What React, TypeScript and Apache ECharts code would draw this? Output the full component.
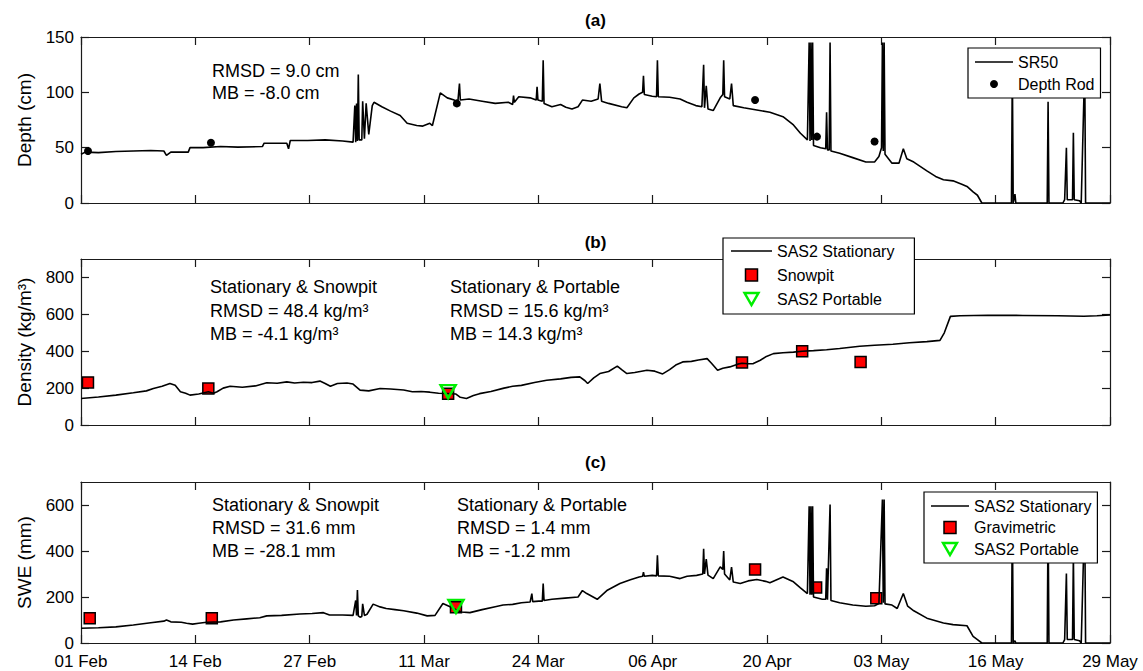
import React, { useEffect, useRef } from "react";
import * as echarts from "echarts";

// ---------- axis ticks ----------
const tickLabels = ["01 Feb", "14 Feb", "27 Feb", "11 Mar", "24 Mar", "06 Apr", "20 Apr", "03 May", "16 May", "29 May"];
const tickDays = [0, 13.11, 26.22, 39.33, 52.44, 65.56, 78.67, 91.78, 104.89, 118];
const depthTicks = [0, 50, 100, 150];
const densityTicks = [0, 200, 400, 600, 800];
const sweTicks = [0, 200, 400, 600];

// ---------- (a) snow depth, [day since 01 Feb, cm] ----------
const sr50Depth: [number, number][] = [
  [0, 44], [0.5, 46], [2, 45.5], [4, 46.5], [6, 47], [8, 47.5], [9.5, 47], [9.8, 43], [10.3, 46], [12.3, 46], [12.5, 50],
  [14, 50], [16, 51], [18, 50.5], [20.8, 51], [21, 54], [23.6, 54], [23.8, 49], [24, 56.5], [26, 56.5], [28, 57], [30, 56],
  [31.2, 55], [31.4, 88], [31.5, 55], [31.6, 90], [31.7, 56], [31.8, 116], [31.9, 57], [32.2, 57], [32.3, 92], [32.5, 58],
  [32.7, 90], [33.0, 62], [33.4, 88], [33.6, 91], [34.5, 87], [35.5, 83], [36.6, 79], [37.4, 72], [38.5, 70], [39.2, 69.5],
  [40, 72], [40.3, 70], [41.2, 99.5], [42, 95], [42.8, 93], [43.2, 90], [43.4, 108], [43.5, 93], [44.5, 94], [46, 92],
  [47.5, 90], [49, 91], [49.5, 89], [49.6, 97], [49.7, 91], [50.2, 96], [51.5, 95], [52.2, 93], [52.3, 105], [52.4, 93],
  [52.9, 92], [53, 129], [53.1, 90], [54, 87], [55, 89], [55.6, 86.5], [56.3, 85], [57, 87], [57.5, 93], [58.5, 92],
  [59.3, 94], [59.5, 108], [59.7, 92], [60.5, 90], [62, 87], [62.6, 86], [63.4, 95], [64, 98.5], [64.4, 100], [64.5, 115],
  [64.6, 98], [65.5, 96.5], [66, 96], [66.1, 129], [66.2, 96], [67.5, 95.5], [68.7, 94], [69.5, 91], [70.5, 88], [71.2, 87],
  [71.4, 125], [71.5, 86], [71.7, 106], [71.9, 85], [72.5, 83.5], [73.3, 95], [73.6, 98], [73.7, 129], [73.8, 96], [74.4, 94],
  [74.6, 108], [74.8, 88], [76, 86], [77.5, 84], [79, 82], [80.5, 78], [81.7, 70.5], [82.5, 63], [83.3, 57], [83.5, 145],
  [83.6, 56], [83.7, 145], [83.8, 57], [83.9, 145], [84.0, 52], [84.8, 50], [85.4, 49], [85.5, 82], [85.6, 48], [85.8, 48],
  [85.9, 145], [86.0, 47], [87, 45], [88.5, 41], [90, 37], [91, 37], [91.5, 42], [91.8, 50], [91.9, 145], [92.0, 47],
  [92.1, 145], [92.2, 44], [93, 36], [93.8, 36], [94.3, 49], [94.7, 40], [95.5, 37], [97, 29], [98, 24], [98.9, 21],
  [100, 20], [101, 17], [101.6, 15], [102.3, 10], [102.8, 7], [103.3, 0], [106.7, 0], [106.8, 125], [106.9, 0], [107.1, 8],
  [107.2, 0], [110.8, 0], [110.9, 91.5], [111.0, 0], [112.6, 0], [112.8, 3], [113.0, 50], [113.1, 3], [113.7, 3],
  [113.8, 63.5], [113.9, 3], [114.5, 2], [114.7, 0], [115.1, 125], [115.2, 0], [118, 0],
];
const depthRod: [number, number][] = [[0.8, 47], [14.9, 54.5], [43.1, 90], [77.3, 93], [84.4, 60], [91, 55.5]];

// ---------- (b) density, kg/m3 ----------
const stationaryDensity: [number, number][] = [
  [0, 144], [2, 152], [4, 162], [6, 175], [7.5, 185], [8.3, 198], [9.3, 210], [10.2, 225], [10.8, 215], [11.4, 180],
  [12, 172], [12.5, 162], [13.5, 168], [14.6, 180], [15.2, 172], [15.6, 180], [16.3, 200], [17.1, 210], [18.5, 205],
  [20, 212], [21.3, 229], [22.5, 226], [23.6, 234], [24.5, 228], [25.5, 232], [26.5, 230], [27.4, 238], [28, 225],
  [28.6, 210], [29.4, 225], [30.5, 228], [31.2, 222], [32, 189], [33, 185], [34.3, 198], [35.5, 195], [37, 190], [38, 180],
  [39, 182], [40, 178], [41, 172], [42, 171], [43, 168], [43.5, 150], [44.2, 144], [45, 160], [45.7, 170], [47, 182],
  [48.5, 200], [49.5, 210], [50.5, 215], [52, 230], [53.4, 243], [55, 250], [56.2, 258], [57.2, 261], [57.8, 240],
  [58.1, 225], [58.8, 255], [59.5, 279], [60.5, 290], [61.5, 319], [62, 300], [62.6, 279], [63.5, 285], [64.9, 297],
  [65.8, 292], [66.7, 277], [67.5, 300], [68.2, 325], [69, 342], [70, 345], [70.8, 352], [71.8, 360], [72.3, 335],
  [73, 297], [73.6, 308], [74.4, 315], [75.3, 330], [75.8, 335], [76.5, 332], [77.1, 333], [77.9, 351], [78.6, 372],
  [79.4, 387], [80.5, 392], [81.7, 395], [82.7, 400], [84, 403], [85.5, 408], [87, 415], [89.3, 427], [91, 432],
  [93.1, 438], [95, 446], [97, 452], [98.5, 459], [99.0, 500], [99.7, 589], [100.8, 592], [104, 595], [108, 594],
  [112, 592], [115, 590], [116.5, 592], [118, 596],
];
const snowpitDensity: [number, number][] = [[0.8, 231], [14.6, 198], [42.1, 170], [75.8, 339], [82.7, 400], [89.4, 342]];
const portableDensity: [number, number][] = [[42.1, 181]];

// ---------- (c) SWE, mm ----------
const stationarySwe: [number, number][] = [
  [0, 64], [2, 66], [4, 70], [6, 78], [8, 88], [9.5, 95], [9.8, 100], [10.3, 92], [11.5, 90], [12.1, 86], [12.8, 82],
  [13.5, 86], [14.4, 90], [16, 92], [17.5, 100], [19, 105], [20.5, 110], [21.3, 118], [23, 120], [25.1, 126], [26.5, 128],
  [27.8, 132], [28.5, 122], [30, 122], [31.2, 120], [31.5, 185], [31.6, 120], [31.7, 230], [31.8, 118], [32.0, 112],
  [32.2, 115], [32.3, 170], [32.5, 120], [32.8, 125], [33.5, 169], [34.3, 157], [35, 150], [36, 145], [37, 140],
  [38.5, 130], [39.7, 118], [40.6, 120], [41.5, 172], [42.2, 160], [43, 145], [43.6, 135], [44.6, 132], [46, 145],
  [47.5, 158], [48.4, 165], [49.5, 168], [50.5, 175], [51.5, 178], [51.7, 215], [51.8, 180], [52.5, 182], [52.9, 182],
  [53.0, 259], [53.1, 185], [54, 190], [55.5, 195], [57, 200], [57.5, 228], [58, 215], [59.2, 190], [60.3, 228],
  [61.8, 259], [63, 275], [64, 287], [64.4, 290], [64.5, 308], [64.6, 290], [65.5, 294], [66, 292], [66.1, 381],
  [66.2, 292], [67.5, 290], [68.7, 280], [69.5, 290], [70.6, 294], [71.3, 300], [71.4, 410], [71.5, 300], [71.7, 365],
  [71.9, 295], [72.5, 280], [73.3, 331], [73.6, 320], [73.7, 400], [73.8, 300], [74.4, 274], [74.6, 330], [74.8, 265],
  [75.6, 259], [76.5, 270], [77.5, 276], [78.5, 268], [79, 262], [80.5, 287], [81.7, 266], [82.5, 240], [83.3, 215],
  [83.5, 594], [83.6, 210], [83.7, 594], [83.8, 210], [83.9, 594], [84.0, 200], [85, 190], [85.4, 190], [85.5, 325],
  [85.6, 188], [85.9, 602], [86.0, 185], [87, 175], [88.5, 165], [90, 160], [91, 162], [91.5, 172], [91.9, 624],
  [92.0, 175], [92.1, 624], [92.2, 170], [93, 165], [93.6, 150], [94.3, 215], [94.8, 160], [95.5, 140], [97, 108],
  [98.9, 87], [100, 80], [101.6, 75], [102.3, 29], [102.8, 15], [103.3, 0], [106.7, 0], [106.8, 570], [106.9, 0],
  [107.1, 10], [107.2, 0], [110.8, 0], [110.9, 549], [111.0, 0], [112.6, 0], [112.8, 15], [113.0, 302], [113.1, 15],
  [113.7, 15], [113.8, 381], [113.9, 15], [114.5, 10], [114.7, 0], [115.1, 570], [115.2, 0], [118, 0],
];
const gravimetricSwe: [number, number][] = [[1, 108], [15, 108], [43, 155], [77.3, 320], [84.3, 241], [91.2, 195]];
const portableSwe: [number, number][] = [[43, 159]];

const FONT = '"Liberation Sans", Arial, Helvetica, sans-serif';
const AX = "#1a1a1a";

const LINE_ICON = "path://M0,0 L40,0 L40,1.6 L0,1.6 Z";
const SQUARE_ICON = "path://M0,0 L10,0 L10,10 L0,10 Z";
const TRIANGLE_ICON = "path://M0,0 L12,0 L6,10.4 Z";

function xAxes(gridIndex: number, showLabels: boolean) {
  const base = {
    type: "value",
    gridIndex,
    min: 0,
    max: 118,
    splitLine: { show: false },
    axisLine: { show: true, onZero: false, lineStyle: { color: AX, width: 1.2 } },
    axisTick: { show: true, inside: true, length: 8, customValues: tickDays, lineStyle: { color: AX, width: 1.2 } },
  };
  return [
    {
      ...base,
      position: "bottom",
      axisLabel: {
        show: showLabels,
        customValues: tickDays,
        margin: 10,
        fontSize: 17,
        fontFamily: FONT,
        color: "#000",
        formatter: (v: number) => {
          const i = tickDays.findIndex((t) => Math.abs(t - v) < 0.5);
          return i >= 0 ? tickLabels[i] : "";
        },
      },
    },
    { ...base, position: "top", axisLabel: { show: false } },
  ];
}

function yAxes(gridIndex: number, max: number, ticks: number[], name: string) {
  const base = {
    type: "value",
    gridIndex,
    min: 0,
    max,
    splitLine: { show: false },
    axisLine: { show: true, onZero: false, lineStyle: { color: AX, width: 1.2 } },
    axisTick: { show: true, inside: true, length: 8, customValues: ticks, lineStyle: { color: AX, width: 1.2 } },
  };
  return [
    {
      ...base,
      position: "left",
      name,
      nameLocation: "middle",
      nameGap: 47,
      nameTextStyle: { fontSize: 19, fontFamily: FONT, color: "#000" },
      axisLabel: { show: true, customValues: ticks, margin: 7, fontSize: 17, fontFamily: FONT, color: "#000" },
    },
    { ...base, position: "right", axisLabel: { show: false } },
  ];
}

const lineStyleBlack = { color: "#000", width: 1.6 };
const squareStyle = { color: "#ff0000", borderColor: "#000", borderWidth: 1.5, opacity: 1 };
const triangleStyle = { color: "rgba(0,0,0,0)", borderColor: "#00ee00", borderWidth: 2.5, opacity: 1 };

function txt(x: number, y: number, text: string, size = 18, bold = false, align = "left") {
  return {
    type: "text",
    x,
    y,
    z: 10,
    style: {
      text,
      fill: "#000",
      font: `${bold ? "bold " : ""}${size}px ${FONT}`,
      align,
      verticalAlign: "middle",
    },
  };
}

function legendBox(left: number, top: number, data: any[], padding: number[], itemWidth: number, itemHeight: number, itemGap: number) {
  return {
    orient: "vertical",
    left,
    top,
    data,
    padding,
    itemWidth,
    itemHeight,
    itemGap,
    symbolRotate: 0,
    selectedMode: false,
    backgroundColor: "#fff",
    borderColor: "#000",
    borderWidth: 1.2,
    borderRadius: 0,
    textStyle: { fontSize: 16, fontFamily: FONT, color: "#000", lineHeight: 18 },
  };
}

export default function App() {
  const ref = useRef<HTMLDivElement>(null);
  useEffect(() => {
    if (!ref.current) return;
    const chart = echarts.init(ref.current, undefined, { renderer: "svg" });
    const lineItem = (name: string) => ({ name, icon: LINE_ICON, itemStyle: { color: "#000", borderWidth: 0 } });
    const squareItem = (name: string) => ({ name, icon: SQUARE_ICON, itemStyle: { color: "#ff0000", borderColor: "#000", borderWidth: 1.5 } });
    const triItem = (name: string) => ({ name, icon: TRIANGLE_ICON, itemStyle: { color: "rgba(0,0,0,0)", borderColor: "#00ee00", borderWidth: 2.5 } });
    const option: any = {
      animation: false,
      backgroundColor: "#fff",
      textStyle: { fontFamily: FONT },
      grid: [
        { left: 81, right: 33, top: 37, height: 166 },
        { left: 81, right: 33, top: 259, height: 166 },
        { left: 81, right: 33, top: 482, height: 161 },
      ],
      xAxis: [...xAxes(0, false), ...xAxes(1, false), ...xAxes(2, true)],
      yAxis: [
        ...yAxes(0, 150, depthTicks, "Depth (cm)"),
        ...yAxes(1, 900, densityTicks, "Density (kg/m³)"),
        ...yAxes(2, 700, sweTicks, "SWE (mm)"),
      ],
      legend: [
        legendBox(968, 48, [lineItem("SR50"), { name: "Depth Rod", icon: "circle", itemStyle: { color: "#000", opacity: 1 } }], [5, 6, 5, 7], 38, 8, 4),
        legendBox(723, 238, [lineItem("SAS2 Stationary"), squareItem("Snowpit"), triItem("SAS2 Portable")], [4, 20, 6, 8], 41, 12, 6),
        legendBox(924, 492, [lineItem("SAS2 Stationary"), squareItem("Gravimetric"), triItem("SAS2 Portable")], [5, 6, 5, 7], 38, 12, 3.5),
      ],
      series: [
        { name: "SR50", type: "line", xAxisIndex: 0, yAxisIndex: 0, data: sr50Depth, symbol: "none", lineStyle: lineStyleBlack, itemStyle: { color: "#000" } },
        { name: "Depth Rod", type: "scatter", xAxisIndex: 0, yAxisIndex: 0, data: depthRod, symbol: "circle", symbolSize: 8, itemStyle: { color: "#000", opacity: 1 } },
        { name: "SAS2 Stationary", type: "line", xAxisIndex: 2, yAxisIndex: 2, data: stationaryDensity, symbol: "none", lineStyle: lineStyleBlack, itemStyle: { color: "#000" } },
        { name: "Snowpit", type: "scatter", xAxisIndex: 2, yAxisIndex: 2, data: snowpitDensity, symbol: "rect", symbolSize: 11, itemStyle: squareStyle },
        { name: "SAS2 Portable", type: "scatter", xAxisIndex: 2, yAxisIndex: 2, data: portableDensity, symbol: "triangle", symbolRotate: 180, symbolSize: [15, 13], itemStyle: triangleStyle, z: 4 },
        { name: "SAS2 Stationary", type: "line", xAxisIndex: 4, yAxisIndex: 4, data: stationarySwe, symbol: "none", lineStyle: lineStyleBlack, itemStyle: { color: "#000" } },
        { name: "Gravimetric", type: "scatter", xAxisIndex: 4, yAxisIndex: 4, data: gravimetricSwe, symbol: "rect", symbolSize: 11, itemStyle: squareStyle },
        { name: "SAS2 Portable", type: "scatter", xAxisIndex: 4, yAxisIndex: 4, data: portableSwe, symbol: "triangle", symbolRotate: 180, symbolSize: [15, 13], itemStyle: triangleStyle, z: 4 },
      ],
      graphic: [
        txt(595.5, 20, "(a)", 17, true, "center"),
        txt(595.5, 242, "(b)", 17, true, "center"),
        txt(595.5, 462, "(c)", 17, true, "center"),
        txt(212, 71, "RMSD = 9.0 cm"),
        txt(212, 93, "MB = -8.0 cm"),
        txt(210, 287, "Stationary & Snowpit"),
        txt(210, 311, "RMSD = 48.4 kg/m³"),
        txt(210, 334, "MB = -4.1 kg/m³"),
        txt(450, 287, "Stationary & Portable"),
        txt(450, 311, "RMSD = 15.6 kg/m³"),
        txt(450, 334, "MB = 14.3 kg/m³"),
        txt(212, 505, "Stationary & Snowpit"),
        txt(212, 528, "RMSD = 31.6 mm"),
        txt(212, 551, "MB = -28.1 mm"),
        txt(457, 505, "Stationary & Portable"),
        txt(457, 528, "RMSD = 1.4 mm"),
        txt(457, 551, "MB = -1.2 mm"),
      ],
    };
    chart.setOption(option);
    return () => chart.dispose();
  }, []);
  return (
    <div
      ref={ref}
      style={{ position: "fixed", left: 0, top: 0, width: 1143, height: 671, background: "#fff" }}
    />
  );
}
